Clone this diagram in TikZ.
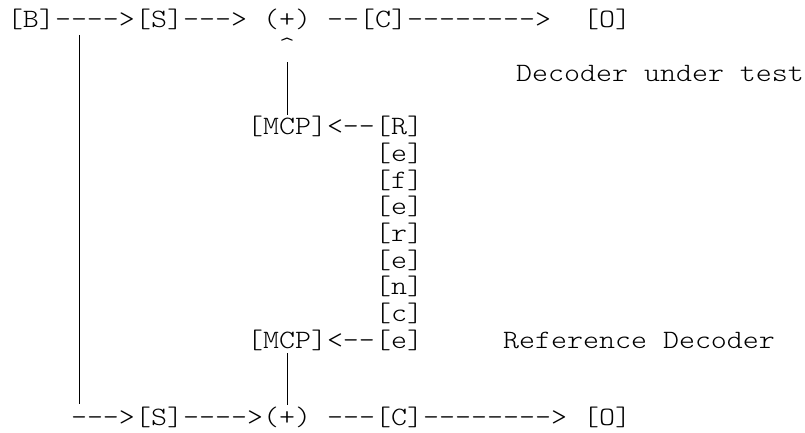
\documentclass[tikz,border=0pt]{standalone}
\usepackage{fontspec}
\setmonofont{Latin Modern Mono Light}[FakeStretch=1.15]
\begin{document}
\begin{tikzpicture}[x=1bp,y=1bp,
  every node/.style={inner sep=0pt, outer sep=0pt, anchor=base west,
    font=\ttfamily\fontsize{26.5bp}{26.7bp}\selectfont},
  wire/.style={line width=0.9bp}]
\useasboundingbox (0,0) rectangle (805,432);
% line 0
\node (b1)  at (7,404)   {[B]};
\node (a1)  at (55,404)  {-{}-{}-{}->};
\node (s1)  at (135,404) {[S]};
\node (a2)  at (183,404) {-{}-{}->};
\node (p1)  at (263,404) {(+)};
\node (a3)  at (327,404) {-{}-};
\node (c1)  at (359,404) {[C]};
\node (a4)  at (407,404) {-{}-{}-{}-{}-{}-{}-{}->};
\node (o1)  at (583,404) {[O]};
% line 1
\node (caret) at (279,377.33) {\textasciicircum};
% line 2
\node (dut) at (516,350.67) {Decoder under test};
% line 4
\node (m1)  at (247,297.33) {[MCP]<-{}-};
\node (r1)  at (375,297.33) {[R]};
\node (r2)  at (375,270.67) {[e]};
\node (r3)  at (375,244)    {[f]};
\node (r4)  at (375,217.33) {[e]};
\node (r5)  at (375,190.67) {[r]};
\node (r6)  at (375,164)    {[e]};
\node (r7)  at (375,137.33) {[n]};
\node (r8)  at (375,110.67) {[c]};
\node (m2)  at (247,84)     {[MCP]<-{}-};
\node (r9)  at (375,84)     {[e]};
\node (rd)  at (503,84)     {Reference Decoder};
% line 15
\node (a5)  at (71,7)   {-{}-{}->};
\node (s2)  at (135,7)  {[S]};
\node (a6)  at (183,7)  {-{}-{}-{}->};
\node (p2)  at (263,7)  {(+)};
\node (a7)  at (327,7)  {-{}-{}-};
\node (c2)  at (375,7)  {[C]};
\node (a8)  at (423,7)  {-{}-{}-{}-{}-{}-{}-{}->};
\node (o2)  at (583,7)  {[O]};
% vertical connectors
\coordinate (vt) at (79,397);
\coordinate (vb) at (79,28);
\draw[wire] (vt) -- (vb);
\coordinate (ut) at (287,370);
\coordinate (ub) at (287,317);
\draw[wire] (ut) -- (ub);
\coordinate (lt) at (287,79);
\coordinate (lb) at (287,27);
\draw[wire] (lt) -- (lb);
\end{tikzpicture}
\end{document}
